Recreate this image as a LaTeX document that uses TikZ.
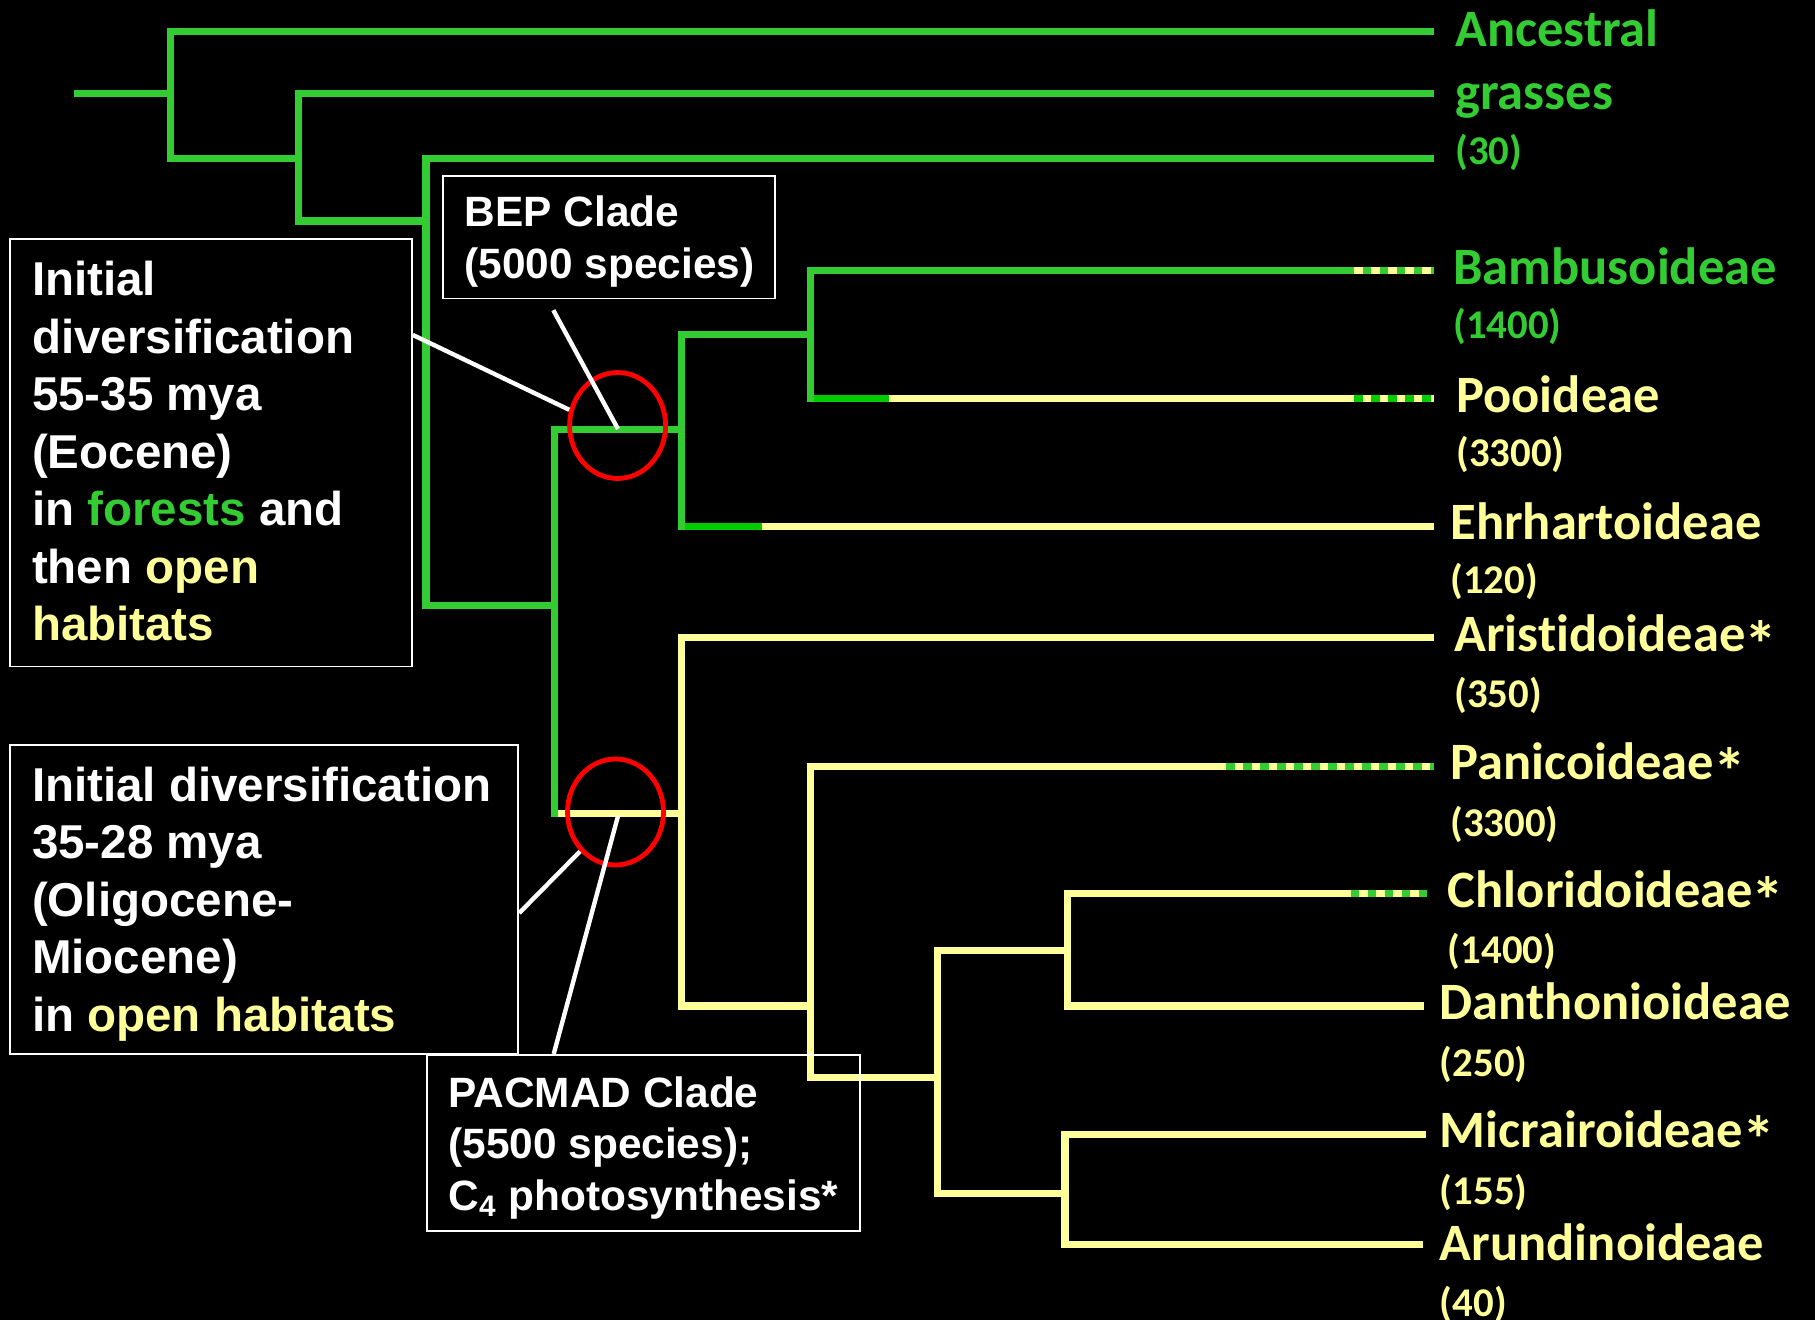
\documentclass[tikz,border=0pt]{standalone}
\usepackage{graphicx}
\usepackage{fontspec}
\setmainfont{Liberation Sans}
\newfontfamily\calib[Ligatures=NoCommon]{Carlito}
\usetikzlibrary{shapes.geometric,calc}
\definecolor{grn}{RGB}{51,204,51}
\definecolor{grnd}{RGB}{0,204,0}
\definecolor{yel}{RGB}{255,255,153}
\definecolor{redc}{RGB}{255,0,0}
\newcommand\bxfont{\bfseries\fontsize{23.75pt}{28pt}\selectfont}
\newcommand\cladefont{\bfseries\fontsize{21.2pt}{26pt}\selectfont}
\newcommand\lfname{\calib\bfseries\fontsize{26.25pt}{30pt}\selectfont}
\newcommand\lfnum{\calib\bfseries\fontsize{20.4pt}{24pt}\selectfont}
\newcommand\lfast{\kern-0.02em\raisebox{-0.3em}{\scalebox{1.25}{*}}}
\begin{document}
\begin{tikzpicture}[x=0.5pt,y=-0.5pt,
  br/.style={line width=3.6pt,line cap=butt},
  vt/.style={line width=3.6pt,line cap=rect},
  dsh/.style={line width=3.6pt,line cap=butt,dash pattern=on 4.25pt off 4.25pt},
  bx/.style={draw=white,line width=0.9pt,rectangle,anchor=north west,inner sep=0pt},
  ring/.style={ellipse,draw=redc,line width=2.4pt,minimum width=48pt,minimum height=53pt,inner sep=0pt},
  ptr/.style={draw=white,line width=2.2pt},
  bt/.style={anchor=base west,inner sep=0pt,text=white,font=\bxfont},
  ct/.style={anchor=base west,inner sep=0pt,text=white,font=\cladefont},
  ln/.style={anchor=base west,inner sep=0pt,font=\lfname},
  nm/.style={anchor=base west,inner sep=0pt,font=\lfnum}]
\path[use as bounding box,fill=black] (0,0) rectangle (1815,1320);

% internal nodes
\coordinate (r0) at (74.1,93.8);
\coordinate (n1) at (170.2,93.8);
\coordinate (n2) at (298.6,158.6);
\coordinate (n3) at (426,221.1);
\coordinate (n4) at (554.4,605.4);
\coordinate (nBEP) at (681.8,429.4);
\coordinate (nBP) at (810.3,334.5);
\coordinate (nPAC) at (681.8,813.7);
\coordinate (nPC) at (810.3,1005.9);
\coordinate (nCDMA) at (937.6,1077.6);
\coordinate (nCD) at (1067.2,950.3);
\coordinate (nMA) at (1064.9,1193.4);
% tips
\coordinate (tA) at (1433.8,31.3);
\coordinate (tG) at (1433.8,93.8);
\coordinate (tT) at (1433.8,158.6);
\coordinate (tBam) at (1433.8,270.9);
\coordinate (tPoo) at (1433.8,398.2);
\coordinate (tEhr) at (1433.8,526.7);
\coordinate (tAri) at (1433.8,637.8);
\coordinate (tPan) at (1433.8,766.3);
\coordinate (tChl) at (1427,893.6);
\coordinate (tDan) at (1423.8,1005.9);
\coordinate (tMic) at (1426,1134.4);
\coordinate (tAru) at (1422.8,1244.3);
% colour change points
\coordinate (dBam) at (1354,270.9);
\coordinate (cPoo) at (889,398.2);
\coordinate (dPoo) at (1354,398.2);
\coordinate (cEhr) at (761.7,526.7);
\coordinate (dPan) at (1226.3,766.3);
\coordinate (dChl) at (1350.8,893.6);

% horizontal branches
\draw[br,grn] (r0) -- (n1);
\draw[br,grn] (n1 |- tA) -- (tA);
\draw[br,grn] (n1 |- n2) -- (n2);
\draw[br,grn] (n2 |- tG) -- (tG);
\draw[br,grn] (n2 |- n3) -- (n3);
\draw[br,grn] (n3 |- tT) -- (tT);
\draw[br,grn] (n3 |- n4) -- (n4);
\draw[br,grn] (n4 |- nBEP) -- (nBEP);
\draw[br,yel] (n4 |- nPAC) -- (nPAC);
\draw[br,grn] (nBEP |- nBP) -- (nBP);
\draw[br,grnd] (nBEP |- tEhr) -- (cEhr);
\draw[br,yel] (cEhr) -- (tEhr);
\draw[br,grn] (nBP |- tBam) -- (tBam);
\draw[dsh,yel] (dBam) -- (tBam);
\draw[br,grnd] (nBP |- tPoo) -- (cPoo);
\draw[br,yel] (cPoo) -- (tPoo);
\draw[dsh,grnd] (dPoo) -- (tPoo);
\draw[br,yel] (nPAC |- tAri) -- (tAri);
\draw[br,yel] (nPAC |- nPC) -- (nPC);
\draw[br,yel] (nPC |- tPan) -- (tPan);
\draw[dsh,grn] (dPan) -- (tPan);
\draw[br,yel] (nPC |- nCDMA) -- (nCDMA);
\draw[br,yel] (nCDMA |- nCD) -- (nCD);
\draw[br,yel] (nCDMA |- nMA) -- (nMA);
\draw[br,yel] (nCD |- tChl) -- (tChl);
\draw[dsh,grn] (dChl) -- (tChl);
\draw[br,yel] (nCD |- tDan) -- (tDan);
\draw[br,yel] (nMA |- tMic) -- (tMic);
\draw[br,yel] (nMA |- tAru) -- (tAru);

% vertical branches
\draw[vt,yel] (nPAC |- tAri) -- (nPAC |- nPC);
\draw[vt,yel] (nPC |- tPan) -- (nPC |- nCDMA);
\draw[vt,yel] (nCDMA |- nCD) -- (nCDMA |- nMA);
\draw[vt,yel] (nCD |- tChl) -- (nCD |- tDan);
\draw[vt,yel] (nMA |- tMic) -- (nMA |- tAru);
\draw[vt,grn] (n1 |- tA) -- (n1 |- n2);
\draw[vt,grn] (n2 |- tG) -- (n2 |- n3);
\draw[vt,grn] (n3 |- tT) -- (n3 |- n4);
\draw[vt,grn] (n4 |- nBEP) -- (n4 |- nPAC);
\draw[vt,grn] (nBEP |- nBP) -- (nBEP |- tEhr);
\draw[vt,grn] (nBP |- tBam) -- (nBP |- tPoo);

% boxes
\node[bx,minimum width=200.85pt,minimum height=213.6pt] (box1) at (9.3,238.4) {};
\node[bx,minimum width=166.1pt,minimum height=61.4pt] (bep) at (442.2,174.8) {};
\node[bx,minimum width=254.05pt,minimum height=154.5pt] (box2) at (9.3,744.3) {};
\node[bx,minimum width=216.8pt,minimum height=88pt] (pac) at (425.7,1054) {};

% red rings
\node[ring] (cBEP) at (617.6,425.5) {};
\node[ring] (cPAC) at (615.5,812) {};

% pointers
\coordinate (sBEP) at (553.3,310.2);
\coordinate (eBEP) at (618,429);
\coordinate (ePAC) at (618,816);
\draw[ptr] ($(box1.north east)!0.225!(box1.south east)$) -- (cBEP.162);
\draw[ptr] (sBEP) -- (eBEP);
\draw[ptr] ($(box2.north east)!0.543!(box2.south east)$) -- (cPAC.228);
\draw[ptr] ($(pac.north west)!0.294!(pac.north east)$) -- (ePAC);

% box texts
\node[bt] (t1a) at (31.7,295.7) {Initial};
\node[bt] (t1b) at (31.7,353.2) {diversification};
\node[bt] (t1c) at (31.7,410.7) {55-35 mya};
\node[bt] (t1d) at (31.7,468.2) {(Eocene)};
\node[bt] (t1e) at (31.7,525.7) {in \textcolor{grn}{forests} and};
\node[bt] (t1f) at (31.7,583.2) {then \textcolor{yel}{open}};
\node[bt] (t1g) at (31.7,640.7) {\textcolor{yel}{habitats}};

\node[bt] (t2a) at (31.7,801) {Initial diversification};
\node[bt] (t2b) at (31.7,858.5) {35-28 mya};
\node[bt] (t2c) at (31.7,916) {(Oligocene-};
\node[bt] (t2d) at (31.7,973.5) {Miocene)};
\node[bt] (t2e) at (31.7,1031) {in \textcolor{yel}{open habitats}};

\node[ct] (tb1) at (464.3,226.7) {BEP Clade};
\node[ct] (tb2) at (464.3,278.3) {(5000 species)};

\node[ct] (tp1) at (448,1107) {PACMAD Clade};
\node[ct] (tp2) at (448,1158.7) {(5500 species);};
\node[ct] (tp3) at (448,1210.4) {C\textsubscript{4} photosynthesis*};

% leaf labels
\node[ln,text=grn] (lA) at (1455,47) {Ancestral};
\node[ln,text=grn] (lG) at (1455,110) {grasses};
\node[nm,text=grn] (l30) at (1455,165) {(30)};
\node[ln,text=grn] (lBam) at (1453,284.2) {Bambusoideae};
\node[nm,text=grn] (lBamN) at (1453,339) {(1400)};
\node[ln,text=yel] (lPoo) at (1456,412.5) {Pooideae};
\node[nm,text=yel] (lPooN) at (1456,467) {(3300)};
\node[ln,text=yel] (lEhr) at (1450,539.5) {Ehrhartoideae};
\node[nm,text=yel] (lEhrN) at (1450,594) {(120)};
\node[ln,text=yel] (lAri) at (1454,651.5) {Aristidoideae\lfast};
\node[nm,text=yel] (lAriN) at (1454,707) {(350)};
\node[ln,text=yel] (lPan) at (1450,779) {Panicoideae\lfast};
\node[nm,text=yel] (lPanN) at (1450,836) {(3300)};
\node[ln,text=yel] (lChl) at (1447.5,907.5) {Chloridoideae\lfast};
\node[nm,text=yel] (lChlN) at (1447.5,963) {(1400)};
\node[ln,text=yel] (lDan) at (1439.5,1019) {Danthonioideae};
\node[nm,text=yel] (lDanN) at (1439.5,1076) {(250)};
\node[ln,text=yel] (lMic) at (1439.5,1147) {Micrairoideae\lfast};
\node[nm,text=yel] (lMicN) at (1439.5,1204) {(155)};
\node[ln,text=yel] (lAru) at (1439.5,1260) {Arundinoideae};
\node[nm,text=yel] (lAruN) at (1439.5,1316.5) {(40)};
\end{tikzpicture}
\end{document}
